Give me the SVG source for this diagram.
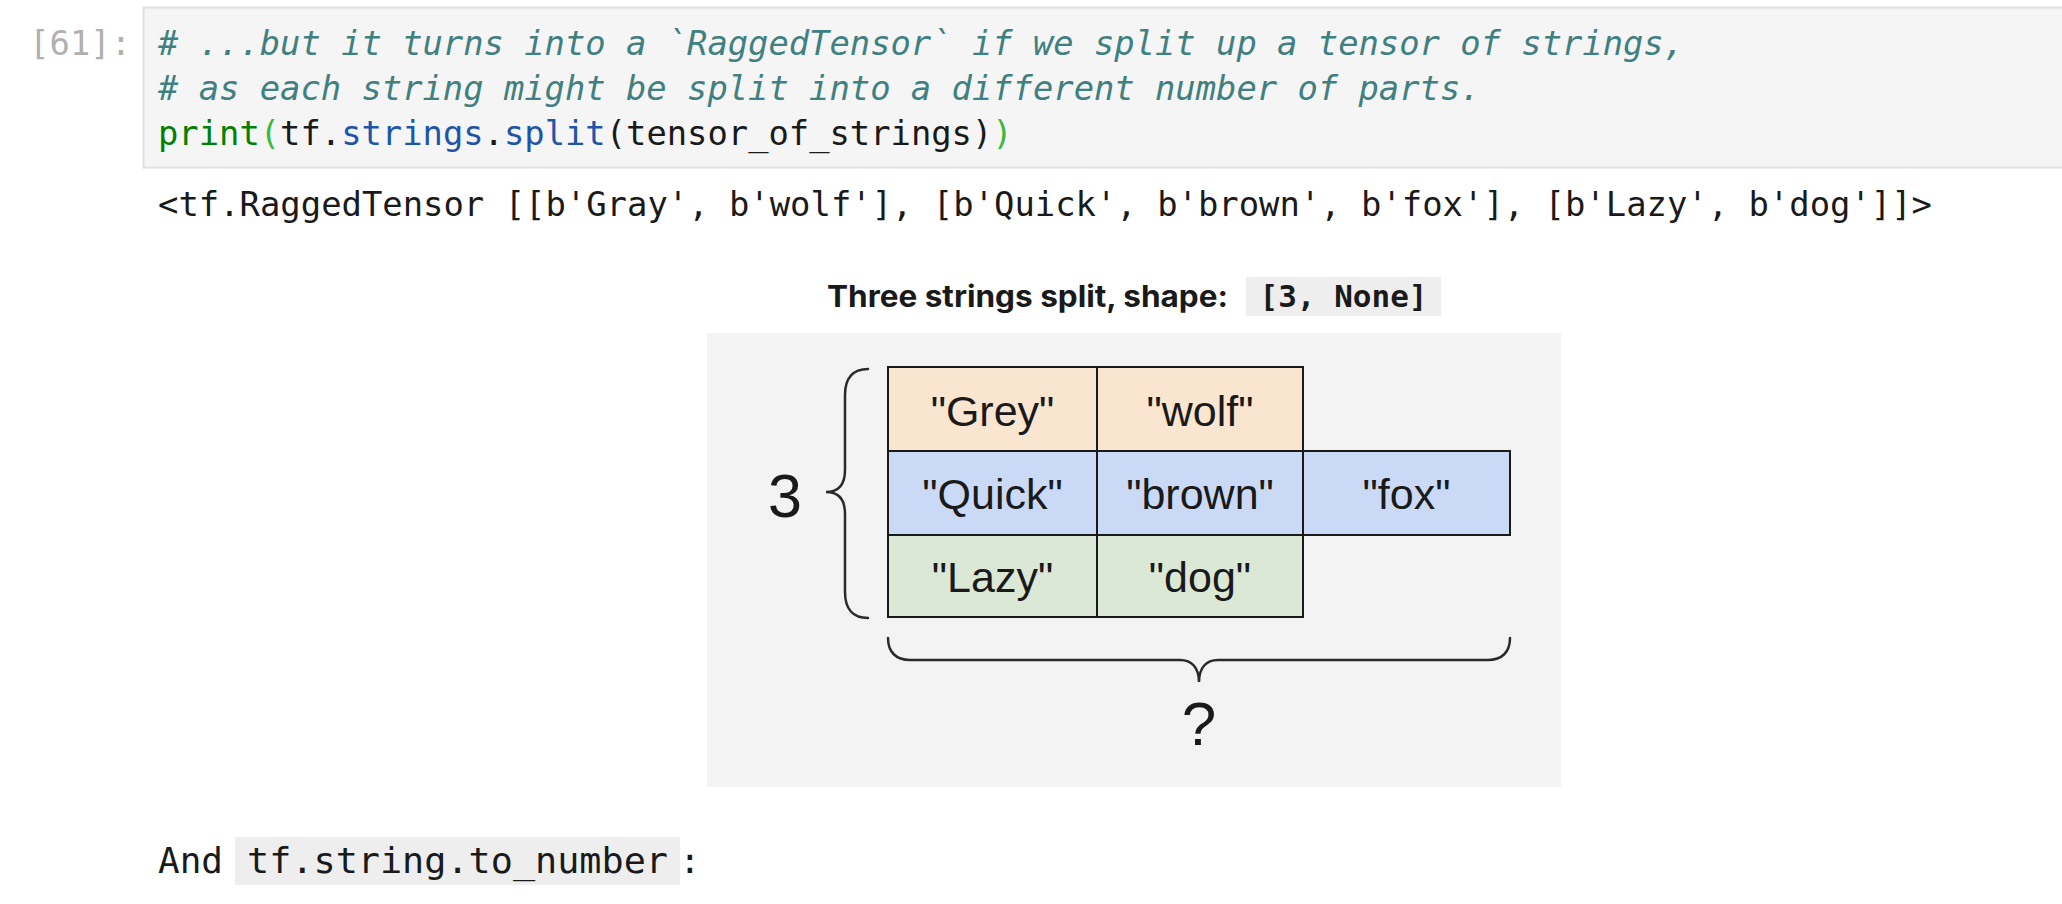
<svg xmlns="http://www.w3.org/2000/svg" width="2062" height="904" viewBox="0 0 2062 904">
  <style>
    .mono { font-family: "DejaVu Sans Mono", "Liberation Mono", monospace; }
    .code { font-size: 33.8px; white-space: pre; }
    .cmt { fill: #408080; font-style: italic; }
    .kw { fill: #008000; }
    .brk { fill: #3cb83c; }
    .prop { fill: #1f55a8; }
    .plain { fill: #1a1a1a; }
    .cell-text { font-family: "Liberation Sans", Arial, sans-serif; font-size: 43px; fill: #1a1a1a; text-anchor: middle; }
    .cell { stroke: #1a1a1a; stroke-width: 2; }
    .r1 { fill: #fae5d0; }
    .r2 { fill: #cadaf6; }
    .r3 { fill: #dbe8d5; }
    .brace { fill: none; stroke: #2a2a2a; stroke-width: 2.5; stroke-linecap: round; }
  </style>

  <rect width="2062" height="904" fill="#ffffff"/>

  <!-- input prompt and code cell -->
  <g id="prompt">
    <text class="mono code" x="131" y="55" fill="#b0b0b0" text-anchor="end">[61]:</text>
  </g>
  <g id="code-cell">
    <rect x="143.5" y="7.5" width="1930" height="160" fill="#f5f5f5" stroke="#e0e0e0" stroke-width="2"/>
    <text class="mono code cmt" x="158" y="55"># ...but it turns into a `RaggedTensor` if we split up a tensor of strings,</text>
    <text class="mono code cmt" x="158" y="100"># as each string might be split into a different number of parts.</text>
    <text class="mono code" x="158" y="145"><tspan class="kw">print</tspan><tspan class="brk">(</tspan><tspan class="plain">tf.</tspan><tspan class="prop">strings</tspan><tspan class="plain">.</tspan><tspan class="prop">split</tspan><tspan class="plain">(tensor_of_strings)</tspan><tspan class="brk">)</tspan></text>
  </g>

  <!-- printed output -->
  <g id="output">
    <text class="mono code" x="158" y="216" fill="#1a1a1a" textLength="1774" lengthAdjust="spacingAndGlyphs">&lt;tf.RaggedTensor [[b'Gray', b'wolf'], [b'Quick', b'brown', b'fox'], [b'Lazy', b'dog']]&gt;</text>
  </g>

  <!-- figure caption -->
  <g id="caption">
    <text x="827" y="307" font-family="Inter, Roboto, 'Liberation Sans', sans-serif" font-weight="700" font-size="30" fill="#1a1a1a" textLength="401" lengthAdjust="spacingAndGlyphs">Three strings split, shape:</text>
    <rect x="1246" y="277" width="195" height="39" fill="#eeeeee"/>
    <text class="mono" x="1343.5" y="307" font-weight="700" font-size="31" fill="#1a1a1a" text-anchor="middle" textLength="168" lengthAdjust="spacingAndGlyphs">[3, None]</text>
  </g>

  <!-- figure panel -->
  <rect id="figure-bg" x="707" y="333" width="854" height="454" fill="#f3f3f3"/>

  <g id="row-1">
    <g id="cell-grey">
      <rect class="cell r1" x="888" y="367" width="209" height="84"/>
      <text class="cell-text" x="992.5" y="426">"Grey"</text>
    </g>
    <g id="cell-wolf">
      <rect class="cell r1" x="1097" y="367" width="206" height="84"/>
      <text class="cell-text" x="1200" y="426">"wolf"</text>
    </g>
  </g>
  <g id="row-2">
    <g id="cell-quick">
      <rect class="cell r2" x="888" y="451" width="209" height="84"/>
      <text class="cell-text" x="992.5" y="509">"Quick"</text>
    </g>
    <g id="cell-brown">
      <rect class="cell r2" x="1097" y="451" width="206" height="84"/>
      <text class="cell-text" x="1200" y="509">"brown"</text>
    </g>
    <g id="cell-fox">
      <rect class="cell r2" x="1303" y="451" width="207" height="84"/>
      <text class="cell-text" x="1406.5" y="509">"fox"</text>
    </g>
  </g>
  <g id="row-3">
    <g id="cell-lazy">
      <rect class="cell r3" x="888" y="535" width="209" height="82"/>
      <text class="cell-text" x="992.5" y="592">"Lazy"</text>
    </g>
    <g id="cell-dog">
      <rect class="cell r3" x="1097" y="535" width="206" height="82"/>
      <text class="cell-text" x="1200" y="592">"dog"</text>
    </g>
  </g>

  <!-- dimension braces and their labels -->
  <g id="connectors">
    <path class="brace" d="M 868 369 C 853 369, 845 378, 845 395 L 845 470 C 845 485, 838 492, 826 492 C 838 492, 845 499, 845 514 L 845 592 C 845 609, 853 618, 868 618"/>
    <path class="brace" d="M 888 638 C 888 652, 896 660, 910 660 L 1180 660 C 1192 660, 1199 668, 1199 682 C 1199 668, 1206 660, 1218 660 L 1488 660 C 1502 660, 1510 652, 1510 638"/>
  </g>
  <g id="label-rows">
    <text x="785" y="517" font-family="'Liberation Sans', Arial, sans-serif" font-size="61" fill="#1a1a1a" text-anchor="middle">3</text>
  </g>
  <g id="label-cols">
    <text x="1199" y="745" font-family="'Liberation Sans', Arial, sans-serif" font-size="62" fill="#1a1a1a" text-anchor="middle">?</text>
  </g>

  <!-- following markdown line -->
  <g id="markdown">
    <rect x="235" y="837" width="445" height="48" fill="#eeeeee"/>
    <text class="mono" x="158" y="873" font-size="36" fill="#1a1a1a">And</text>
    <text class="mono" x="247" y="873" font-size="36" fill="#1a1a1a" textLength="421" lengthAdjust="spacingAndGlyphs">tf.string.to_number</text>
    <text class="mono" x="679" y="873" font-size="36" fill="#1a1a1a">:</text>
  </g>
</svg>
